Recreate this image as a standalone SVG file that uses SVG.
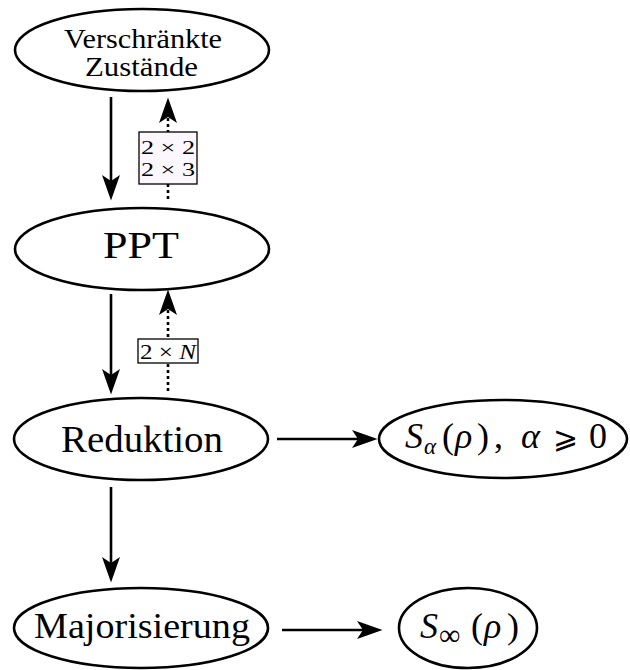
<svg xmlns="http://www.w3.org/2000/svg" width="630" height="670" viewBox="0 0 630 670">
<defs>
<style>
.node ellipse{fill:#fff;stroke:#000;stroke-width:2.6}
text{font-family:"Liberation Serif","DejaVu Serif",serif;fill:#000}
.conn line{stroke:#000;stroke-width:2.6;fill:none}
.conn line.dot{stroke-dasharray:3 3}
.lbl rect{stroke:#000;stroke-width:1.3}
.it{font-style:italic}
</style>
<marker id="ah" markerUnits="userSpaceOnUse" markerWidth="30" markerHeight="30" viewBox="-12 -8 20 16" refX="0" refY="0" orient="auto">
<path d="M7,0 L-10,-6 L-6,0 L-10,6 Z" fill="#000"/>
</marker>
</defs>
<rect width="630" height="670" fill="#fff"/>

<g id="connectors" class="conn">
<line x1="111" y1="97" x2="111" y2="190" marker-end="url(#ah)"/>
<line class="dot" x1="168" y1="199" x2="168" y2="108" marker-end="url(#ah)"/>
<line x1="111" y1="294" x2="111" y2="384" marker-end="url(#ah)"/>
<line class="dot" x1="168" y1="391" x2="168" y2="300" marker-end="url(#ah)"/>
<line x1="277" y1="439" x2="367" y2="439" marker-end="url(#ah)"/>
<line x1="111" y1="487" x2="111" y2="572" marker-end="url(#ah)"/>
<line x1="282" y1="630" x2="372" y2="630" marker-end="url(#ah)"/>
<g class="lbl" id="label-2x2">
<rect x="139" y="132" width="58" height="52" fill="#fcf7fc"/>
<text x="168" y="154" font-size="19" text-anchor="middle" textLength="54" lengthAdjust="spacingAndGlyphs">2 × 2</text>
<text x="168" y="176" font-size="19" text-anchor="middle" textLength="54" lengthAdjust="spacingAndGlyphs">2 × 3</text>
</g>
<g class="lbl" id="label-2xN">
<rect x="138" y="339" width="60" height="24" fill="#fff"/>
<text x="168" y="359" font-size="22" text-anchor="middle" textLength="56" lengthAdjust="spacingAndGlyphs">2 × <tspan class="it">N</tspan></text>
</g>
</g>

<g id="verschraenkte" class="node">
<ellipse cx="142" cy="50" rx="127" ry="41"/>
<text x="143" y="48" font-size="28" text-anchor="middle" textLength="158" lengthAdjust="spacingAndGlyphs">Verschränkte</text>
<text x="141.5" y="76" font-size="28" text-anchor="middle" textLength="113" lengthAdjust="spacingAndGlyphs">Zustände</text>
</g>

<g id="ppt" class="node">
<ellipse cx="142" cy="249" rx="127" ry="41"/>
<text x="141" y="258" font-size="38" text-anchor="middle" textLength="76" lengthAdjust="spacingAndGlyphs">PPT</text>
</g>

<g id="reduktion" class="node">
<ellipse cx="141" cy="439" rx="127" ry="41"/>
<text x="142" y="452" font-size="37" text-anchor="middle" textLength="162" lengthAdjust="spacingAndGlyphs">Reduktion</text>
</g>

<g id="majorisierung" class="node">
<ellipse cx="141" cy="628" rx="127" ry="40"/>
<text x="142" y="638" font-size="35" text-anchor="middle" textLength="216" lengthAdjust="spacingAndGlyphs">Majorisierung</text>
</g>

<g id="s-alpha" class="node">
<ellipse cx="503" cy="439" rx="124" ry="39"/>
<text y="448" font-size="36"><tspan class="it" x="405">S</tspan><tspan class="it" x="424" y="454" font-size="23">α</tspan><tspan x="442" y="448">(</tspan><tspan class="it" x="455">ρ</tspan><tspan x="477">)</tspan><tspan x="494">,</tspan><tspan class="it" x="521">α</tspan><tspan x="553" font-family="DejaVu Sans, sans-serif" font-size="30">⩾</tspan><tspan x="589">0</tspan></text>
</g>

<g id="s-inf" class="node">
<ellipse cx="468" cy="628" rx="69" ry="40"/>
<text y="638" font-size="36"><tspan class="it" x="420">S</tspan><tspan x="439" y="645" font-size="30">∞</tspan><tspan x="471" y="638">(</tspan><tspan class="it" x="484">ρ</tspan><tspan x="507">)</tspan></text>
</g>
</svg>
